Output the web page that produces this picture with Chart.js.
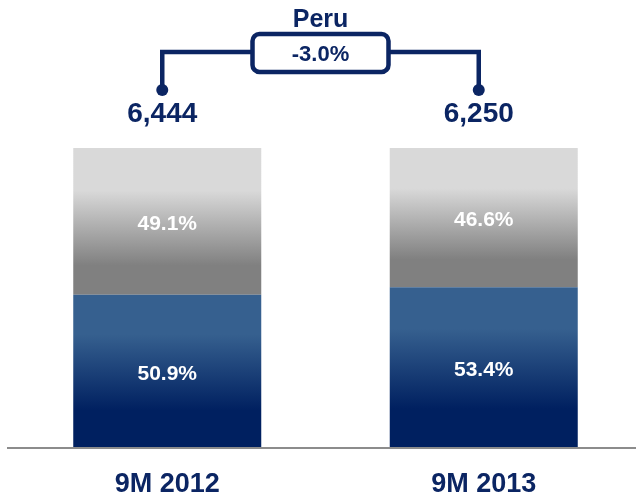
<!DOCTYPE html>
<html lang="en">
  <head>
    <meta charset="utf-8" />
    <title>Peru 9M 2012 vs 9M 2013</title>
    <style>
      * {
        margin: 0;
        padding: 0;
      }
      body {
        background: white;
        overflow: hidden;
      }
    </style>
  </head>
  <body>
    <canvas id="myChart" width="642" height="498"></canvas>

    <script src="https://cdn.jsdelivr.net/npm/chart.js@4.2.1/dist/chart.umd.min.js"></script>

    <script>
      const categories = ["9M 2012", "9M 2013"];
      const bottomShare = [50.9, 53.4];
      const topShare = [49.1, 46.6];
      const totals = [6444, 6250];
      const regionName = "Peru";
      const changeLabel = "-3.0%";

      const navy = "#0b2563";
      const font = "'Liberation Sans', Arial, sans-serif";

      // gradient sized to each stacked segment
      function segmentGradient(stops) {
        return (context) => {
          const { chart, dataIndex, datasetIndex } = context;
          if (!chart.chartArea || dataIndex === undefined) return stops[0][1];
          const yScale = chart.scales.y;
          let base = 0;
          for (let i = 0; i < datasetIndex; i++) {
            base += chart.data.datasets[i].data[dataIndex];
          }
          const value = chart.data.datasets[datasetIndex].data[dataIndex];
          const yTop = yScale.getPixelForValue(base + value);
          const yBottom = yScale.getPixelForValue(base);
          const g = chart.ctx.createLinearGradient(0, yTop, 0, yBottom);
          stops.forEach(([pos, color]) => g.addColorStop(pos, color));
          return g;
        };
      }

      const data = {
        labels: categories,
        datasets: [
          {
            label: "bottom",
            data: bottomShare,
            backgroundColor: segmentGradient([
              [0, "#36608f"],
              [0.26, "#36608f"],
              [0.76, "#002060"],
              [1, "#002060"],
            ]),
          },
          {
            label: "top",
            data: topShare,
            backgroundColor: segmentGradient([
              [0, "#d9d9d9"],
              [0.29, "#d9d9d9"],
              [0.8, "#808080"],
              [1, "#808080"],
            ]),
          },
        ],
      };

      const annotations = {
        id: "annotations",
        afterDatasetsDraw(chart) {
          const { ctx, chartArea } = chart;
          const meta0 = chart.getDatasetMeta(0);
          ctx.save();

          // axis line
          ctx.strokeStyle = "#8c8c8c";
          ctx.lineWidth = 2;
          ctx.beginPath();
          ctx.moveTo(7, chartArea.bottom + 1);
          ctx.lineTo(chart.width, chartArea.bottom + 1);
          ctx.stroke();

          // percent labels inside segments
          ctx.fillStyle = "white";
          ctx.font = `bold 21px ${font}`;
          ctx.textAlign = "center";
          ctx.textBaseline = "middle";
          chart.data.datasets.forEach((ds, di) => {
            chart.getDatasetMeta(di).data.forEach((el, i) => {
              ctx.fillText(
                ds.data[i].toFixed(1) + "%",
                el.x,
                (el.y + el.base) / 2 + 3
              );
            });
          });

          // category labels
          ctx.fillStyle = navy;
          ctx.font = `bold 27px ${font}`;
          meta0.data.forEach((el, i) => {
            ctx.fillText(categories[i], el.x, chartArea.bottom + 38);
          });

          // totals
          ctx.font = `bold 28px ${font}`;
          const dotX = meta0.data.map((el) => el.x - 5);
          totals.forEach((t, i) => {
            ctx.fillText(t.toLocaleString("en-US"), dotX[i], chartArea.top - 34);
          });

          // bracket
          const lineY = 52;
          const dotY = 90;
          ctx.strokeStyle = navy;
          ctx.lineWidth = 4.5;
          ctx.beginPath();
          ctx.moveTo(dotX[0], dotY);
          ctx.lineTo(dotX[0], lineY);
          ctx.lineTo(dotX[1], lineY);
          ctx.lineTo(dotX[1], dotY);
          ctx.stroke();
          dotX.forEach((x) => {
            ctx.beginPath();
            ctx.arc(x, dotY, 6, 0, Math.PI * 2);
            ctx.fill();
          });

          const midX = (dotX[0] + dotX[1]) / 2;
          const boxW = 136;
          const boxH = 38;
          ctx.beginPath();
          ctx.roundRect(midX - boxW / 2, 34, boxW, boxH, 7);
          ctx.fillStyle = "white";
          ctx.fill();
          ctx.stroke();

          ctx.fillStyle = navy;
          ctx.font = `bold 22px ${font}`;
          ctx.fillText(changeLabel, midX, 55);
          ctx.font = `bold 25px ${font}`;
          ctx.fillText(regionName, midX, 20);

          ctx.restore();
        },
      };

      const config = {
        type: "bar",
        data: data,
        options: {
          responsive: false,
          animation: false,
          layout: {
            padding: { top: 148, bottom: 51, left: 9, right: 0 },
          },
          datasets: {
            bar: {
              categoryPercentage: 1,
              barPercentage: 0.594,
            },
          },
          scales: {
            x: { display: false, stacked: true },
            y: { display: false, stacked: true, min: 0, max: 100 },
          },
          plugins: {
            legend: { display: false },
            tooltip: { enabled: false },
          },
        },
        plugins: [annotations],
      };

      const myChart = new Chart(document.getElementById("myChart"), config);
    </script>
  </body>
</html>
